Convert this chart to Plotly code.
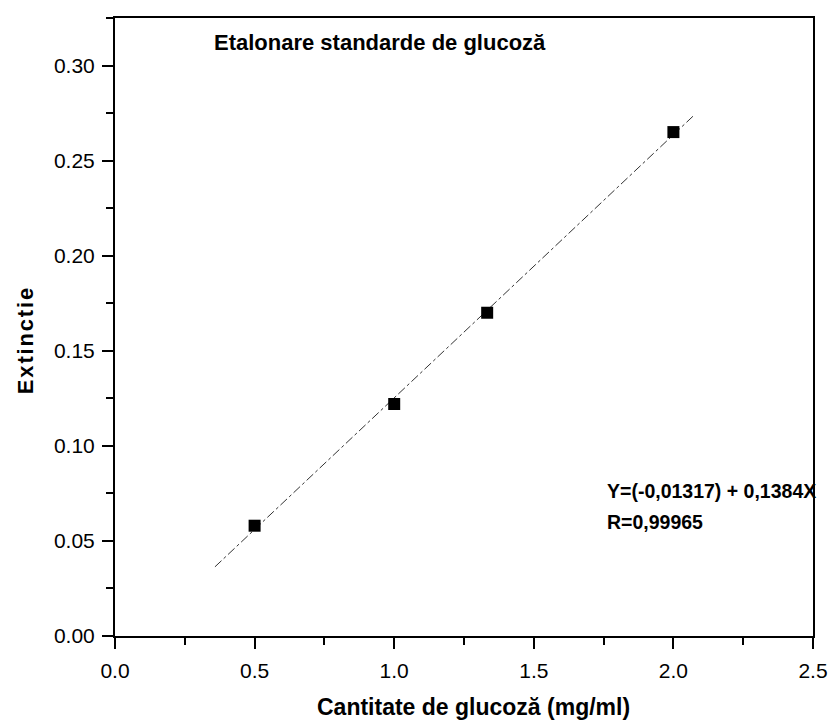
import plotly.graph_objects as go

# Data
conc = [0.5, 1.0, 1.333, 2.0]
ext = [0.058, 0.122, 0.170, 0.265]
intercept = -0.01317
slope = 0.1384
fit_x = [0.358, 2.07]
fit_y = [intercept + slope * x for x in fit_x]

x_ticks = [0.0, 0.5, 1.0, 1.5, 2.0, 2.5]
x_tick_labels = ["0.0", "0.5", "1.0", "1.5", "2.0", "2.5"]
y_ticks = [0.00, 0.05, 0.10, 0.15, 0.20, 0.25, 0.30]
y_tick_labels = ["0.00", "0.05", "0.10", "0.15", "0.20", "0.25", "0.30"]

FONT = "Liberation Sans, Arial, sans-serif"

fig = go.Figure()
fig.add_trace(go.Scatter(x=fit_x, y=fit_y, mode="lines",
                         line=dict(color="#333333", width=1, dash="dashdot"),
                         showlegend=False))
fig.add_trace(go.Scatter(x=conc, y=ext, mode="markers",
                         marker=dict(symbol="square", size=12, color="black"),
                         showlegend=False))

axis_common = dict(showline=True, linewidth=2, linecolor="black", mirror=True,
                   showgrid=False, zeroline=False, ticks="outside", ticklen=11,
                   tickwidth=2, tickcolor="black",
                   tickfont=dict(family=FONT, size=21, color="black"))

fig.update_xaxes(range=[0, 2.5], tickvals=x_ticks, ticktext=x_tick_labels,
                 ticklabelstandoff=4,
                 minor=dict(ticks="outside", ticklen=7, tickwidth=2, tickcolor="black", dtick=0.25),
                 **axis_common)
fig.update_yaxes(range=[0, 0.325], tickvals=y_ticks, ticktext=y_tick_labels,
                 ticklabelstandoff=3,
                 minor=dict(ticks="outside", ticklen=7, tickwidth=2, tickcolor="black", dtick=0.025),
                 **axis_common)

hs = "\u200a"
fig.add_annotation(x=0.5135, y=-0.1145, xref="paper", yref="paper", xanchor="center", yanchor="middle",
                   text="<b>Cantitate de glucoză (mg/ml)</b>", showarrow=False,
                   font=dict(family=FONT, size=23, color="black"))
fig.add_annotation(x=-0.129, y=0.477, xref="paper", yref="paper", xanchor="center", yanchor="middle",
                   text="<b>" + hs.join("Extinctie") + "</b>", showarrow=False, textangle=-90,
                   font=dict(family=FONT, size=22, color="black"))
fig.add_annotation(x=0.139, y=0.961, xref="paper", yref="paper", xanchor="left", yanchor="middle",
                   text="<b>Etalonare standarde de glucoză</b>", showarrow=False,
                   font=dict(family=FONT, size=22, color="black"))
fig.add_annotation(x=0.702, y=0.235, xref="paper", yref="paper", xanchor="left", yanchor="middle",
                   text="<b>Y=(-0,01317) + 0,1384X</b>", showarrow=False,
                   font=dict(family=FONT, size=19.5, color="black"))
fig.add_annotation(x=0.702, y=0.184, xref="paper", yref="paper", xanchor="left", yanchor="middle",
                   text="<b>R=0,99965</b>", showarrow=False,
                   font=dict(family=FONT, size=19.5, color="black"))

fig.update_layout(width=828, height=716, margin=dict(l=107, r=16, t=8, b=88),
                  plot_bgcolor="white", paper_bgcolor="white",
                  font=dict(family=FONT, color="black"))

fig.write_html("out.html")
